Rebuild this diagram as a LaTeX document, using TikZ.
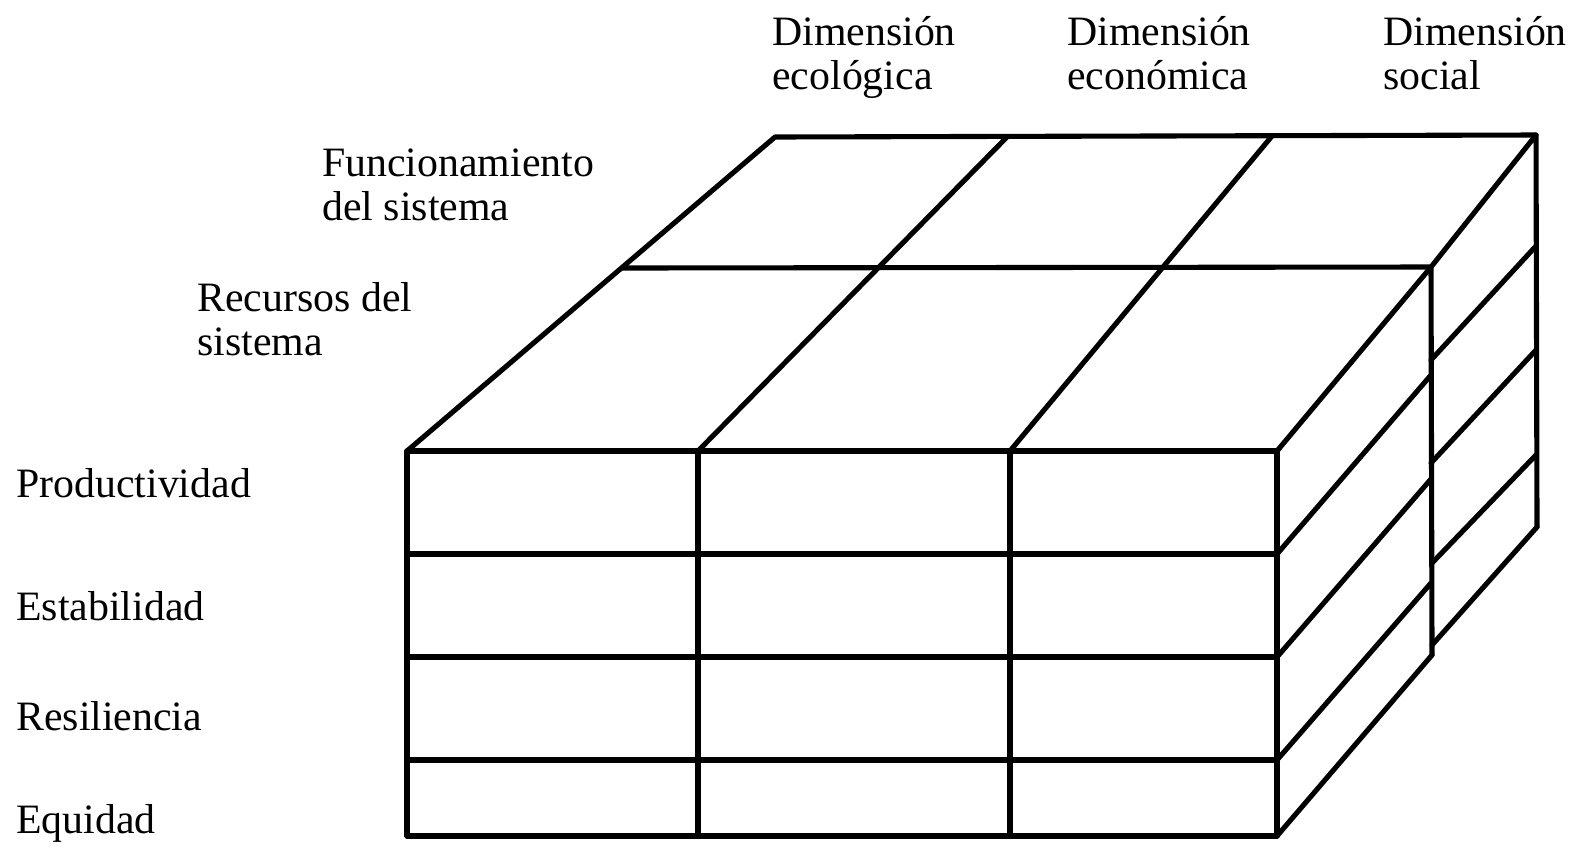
\documentclass[tikz,border=0pt]{standalone}
\usepackage{fontspec}
\setmainfont{Liberation Serif}
\begin{document}
\begin{tikzpicture}[x=0.02cm,y=-0.02cm,
  edge/.style={line width=2.9pt, line cap=round, line join=round},
  lab/.style={anchor=base west, inner sep=0pt, font=\fontsize{23.8}{25}\selectfont}]
\useasboundingbox (0,0) rectangle (1574,846);
% ---- front face ----
\foreach \y in {451,554,657,760,836} \draw[edge] (407,\y) -- (1277,\y);
\foreach \x in {407,698,1010,1277} \draw[edge] (\x,451) -- (\x,836);
% ---- top face ----
\draw[edge] (407,451) -- (775,137) -- (1536,135) -- (1537,527);
\draw[edge] (622,268) -- (1431,267) -- (1432,655);
\draw[edge] (698,451) -- (1007,137);
\draw[edge] (1010,451) -- (1272,136);
\draw[edge] (1277,451) -- (1431,267) -- (1536,135);
% ---- right face, front part ----
\draw[edge] (1277,554) -- (1431,375);
\draw[edge] (1277,657) -- (1431,479);
\draw[edge] (1277,760) -- (1431,583);
\draw[edge] (1277,836) -- (1432,655);
% ---- right face, back part ----
\draw[edge] (1431,360) -- (1536,246);
\draw[edge] (1431,463) -- (1536,350);
\draw[edge] (1432,563) -- (1536,455);
\draw[edge] (1432,645) -- (1537,527);
% ---- labels ----
\node[lab] (d1a) at (772,45) {Dimensión};
\node[lab] (d1b) at (772,89) {ecológica};
\node[lab] (d2a) at (1067,45) {Dimensión};
\node[lab] (d2b) at (1067,89) {económica};
\node[lab] (d3a) at (1383,45) {Dimensión};
\node[lab] (d3b) at (1383,89) {social};
\node[lab] (fa) at (322,176) {Funcionamiento};
\node[lab] (fb) at (322,220) {del sistema};
\node[lab] (ra) at (197,311) {Recursos del};
\node[lab] (rb) at (197,355) {sistema};
\node[lab] (p) at (16,497) {Productividad};
\node[lab] (e) at (16,620) {Estabilidad};
\node[lab] (r) at (16,730) {Resiliencia};
\node[lab] (q) at (16,833) {Equidad};
\end{tikzpicture}
\end{document}
